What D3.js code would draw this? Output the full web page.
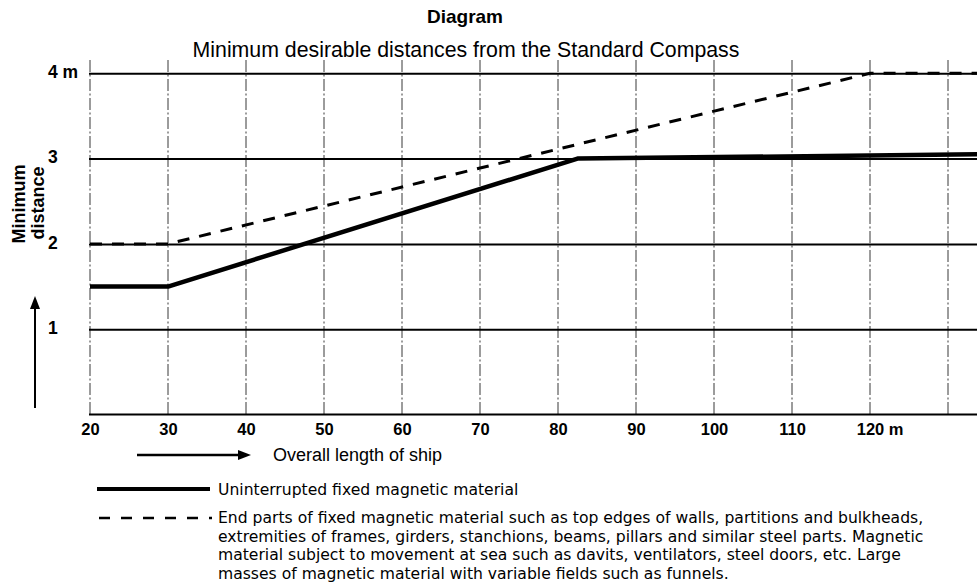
<!DOCTYPE html>
<html><head><meta charset="utf-8">
<script src="https://cdn.jsdelivr.net/npm/d3@7"></script>
<style>
body{margin:0;background:#fff}
svg{display:block}
text{fill:#000}
</style>
</head><body>
<svg id="c" width="977" height="586"></svg>
<script>
// ---- data ----
const xTicks = [20, 30, 40, 50, 60, 70, 80, 90, 100, 110, 120, 130];
const xTickLabels = ["20", "30", "40", "50", "60", "70", "80", "90", "100", "110", "120", ""];
const xUnitLabel = " m";
const yTicks = [1, 2, 3, 4];
const yTickLabels = ["1", "2", "3", "4 m"];
const solidX = [20, 30, 82.5, 134];
const solidY = [1.5, 1.5, 3.0, 3.05];
const dashedX = [20, 30, 120, 134];
const dashedY = [2, 2, 4, 4];
const titleText = "Diagram";
const subtitleText = "Minimum desirable distances from the Standard Compass";
const yTitle = ["Minimum", "distance"];
const xTitle = "Overall length of ship";
const legendSolid = ["Uninterrupted fixed magnetic material"];
const legendDashed = [
  "End parts of fixed magnetic material such as top edges of walls, partitions and bulkheads,",
  "extremities of frames, girders, stanchions, beams, pillars and similar steel parts. Magnetic",
  "material subject to movement at sea such as davits, ventilators, steel doors, etc. Large",
  "masses of magnetic material with variable fields such as funnels."
];

// ---- layout ----
const svg = d3.select("#c");
const W = 977;
const x = d3.scaleLinear().domain([20, 130]).range([90, 948]);
const y = d3.scaleLinear().domain([0, 4]).range([414.5, 73.3]);
const gridTop = 60;
const boldFont = "'Liberation Sans', Arial, sans-serif";
const lightFont = "'DejaVu Sans', 'Open Sans', sans-serif";

// titles
svg.append("text").attr("x", 465).attr("y", 23).attr("text-anchor", "middle")
  .attr("font-family", boldFont).attr("font-weight", "bold").attr("font-size", 19)
  .text(titleText);
svg.append("text").attr("x", 466).attr("y", 57).attr("text-anchor", "middle")
  .attr("font-family", boldFont).attr("font-size", 21.3)
  .text(subtitleText);

// vertical grid (thin dash-dot)
svg.append("g").selectAll("line").data(xTicks).join("line")
  .attr("x1", d => x(d)).attr("x2", d => x(d))
  .attr("y1", gridTop).attr("y2", y(0))
  .attr("stroke", "#222").attr("stroke-width", 0.9)
  .attr("stroke-dasharray", "12,2.5,2,2.5");

// horizontal grid + y labels
const yAxis = d3.axisLeft(y).tickValues(yTicks)
  .tickSize(-(W - x(20) + 2))
  .tickFormat((d, i) => yTickLabels[i]);
const gy = svg.append("g").attr("transform", `translate(${x(20) - 1},0)`).call(yAxis);
gy.select(".domain").remove();
gy.selectAll(".tick line").attr("stroke", "#000").attr("stroke-width", 2);
gy.selectAll(".tick text").attr("x", -41).attr("dy", "0.25em").attr("text-anchor", "start")
  .attr("font-family", boldFont).attr("font-weight", "bold").attr("font-size", 17.5).attr("fill", "#000");

// baseline + x labels
const xAxis = d3.axisBottom(x).tickValues(xTicks).tickSize(0)
  .tickFormat((d, i) => xTickLabels[i]);
const gx = svg.append("g").attr("transform", `translate(0,${y(0)})`).call(xAxis);
gx.select(".domain").remove();
svg.append("line").attr("x1", x(20) - 1).attr("x2", W).attr("y1", y(0)).attr("y2", y(0))
  .attr("stroke", "#000").attr("stroke-width", 2);
gx.selectAll(".tick text").attr("y", 20.5).attr("dy", 0)
  .attr("font-family", boldFont).attr("font-weight", "bold").attr("font-size", 16.5).attr("fill", "#000");
// unit after the 120 label, keeping the number centred on its tick
gx.selectAll(".tick").filter(d => d === 120).each(function () {
  const t = d3.select(this).select("text");
  const w = t.node().getComputedTextLength();
  d3.select(this).append("text").attr("x", w / 2).attr("y", 20.5)
    .attr("font-family", boldFont).attr("font-weight", "bold").attr("font-size", 16.5)
    .attr("fill", "#000").attr("text-anchor", "start").attr("xml:space", "preserve")
    .text(xUnitLabel);
});

// data lines
const line = d3.line().x(d => x(d[0])).y(d => y(d[1]));
svg.append("path").datum(dashedX.map((v, i) => [v, dashedY[i]]))
  .attr("d", line).attr("fill", "none").attr("stroke", "#000")
  .attr("stroke-width", 3).attr("stroke-dasharray", "12,10");
svg.append("path").datum(solidX.map((v, i) => [v, solidY[i]]))
  .attr("d", line).attr("fill", "none").attr("stroke", "#000")
  .attr("stroke-width", 4.5).attr("stroke-linejoin", "round");

// axis titles + arrows
svg.append("text").attr("transform", "translate(25,204) rotate(-90)").attr("text-anchor", "middle")
  .attr("font-family", boldFont).attr("font-weight", "bold").attr("font-size", 18).text(yTitle[0]);
svg.append("text").attr("transform", "translate(44,203) rotate(-90)").attr("text-anchor", "middle")
  .attr("font-family", boldFont).attr("font-weight", "bold").attr("font-size", 18).text(yTitle[1]);

svg.append("line").attr("x1", 35).attr("x2", 35).attr("y1", 408).attr("y2", 306)
  .attr("stroke", "#000").attr("stroke-width", 2);
svg.append("path").attr("d", "M35,296 L30,309 L40,309 Z").attr("fill", "#000");

svg.append("line").attr("x1", 137).attr("x2", 240).attr("y1", 455).attr("y2", 455)
  .attr("stroke", "#000").attr("stroke-width", 2.5);
svg.append("path").attr("d", "M251,455 L238,450 L238,460 Z").attr("fill", "#000");
svg.append("text").attr("x", 273).attr("y", 461)
  .attr("font-family", boldFont).attr("font-size", 18).text(xTitle);

// legend
svg.append("line").attr("x1", 97).attr("x2", 210).attr("y1", 489).attr("y2", 489)
  .attr("stroke", "#000").attr("stroke-width", 4);
svg.append("line").attr("x1", 99).attr("x2", 212).attr("y1", 518).attr("y2", 518)
  .attr("stroke", "#000").attr("stroke-width", 2.5).attr("stroke-dasharray", "11,11");
svg.append("g").selectAll("text").data(legendSolid).join("text")
  .attr("x", 218).attr("y", (d, i) => 495 + i * 18.5)
  .attr("font-family", lightFont).attr("font-size", 15.6).text(d => d);
svg.append("g").selectAll("text").data(legendDashed).join("text")
  .attr("x", 218).attr("y", (d, i) => 523 + i * 18.5)
  .attr("font-family", lightFont).attr("font-size", 15.6).text(d => d);
</script>
</body></html>
